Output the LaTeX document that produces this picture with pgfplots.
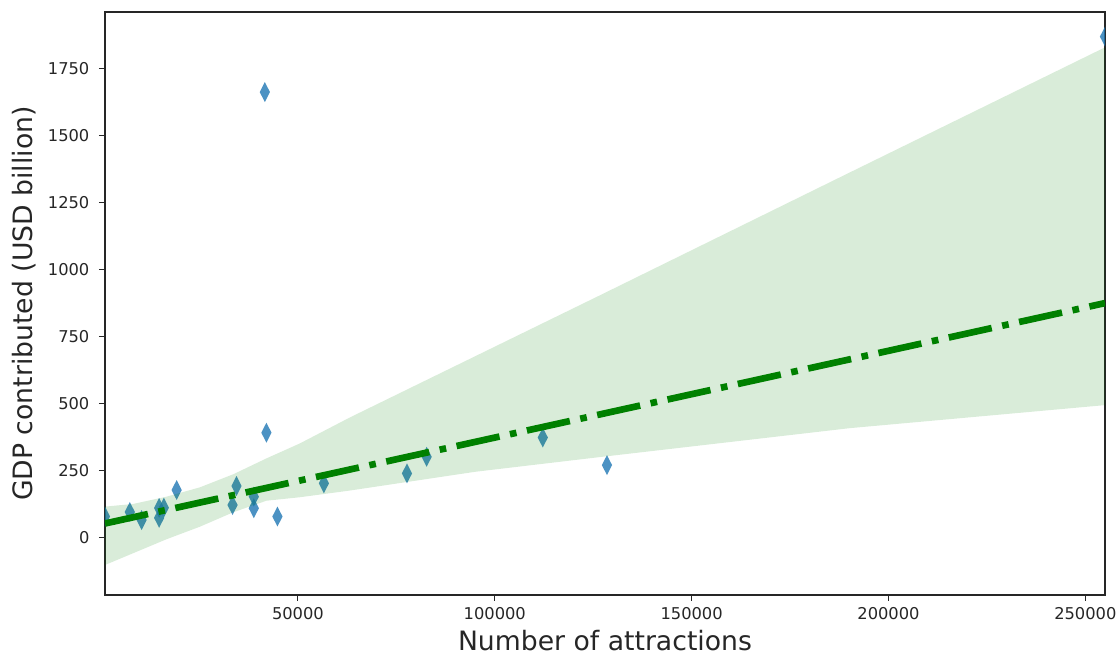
\documentclass[border=0pt]{standalone}
\usepackage{pgfplots}
\pgfplotsset{compat=1.18}
\usepackage{fontspec}
\setmainfont{DejaVu Sans}

\definecolor{ptblue}{RGB}{31,119,180}
\definecolor{fitgreen}{RGB}{0,128,0}
\definecolor{axgray}{RGB}{38,38,38}

% attractions vs. GDP contributed
\pgfplotstableread{
x      y
1000   78
7300   95
10300  65
14750  110
15950  111
14750  73
19200  177
33400  121
34400  192
38800  152
38800  109
41600  1663
42000  391
44800  78
56600  202
77700  239
82700  301
112200 373
128500 270
255000 1870
}\gdpdata

\begin{document}
\begin{tikzpicture}
\begin{axis}[
  scale only axis,
  width=750pt, height=437.25pt,
  xmin=1000, xmax=255000,
  ymin=-215, ymax=1962,
  xtick={50000,100000,150000,200000,250000},
  ytick={0,250,500,750,1000,1250,1500,1750},
  scaled x ticks=false, scaled y ticks=false,
  /pgf/number format/.cd, fixed, precision=0, 1000 sep={}, assume math mode=true,
  /pgfplots/.cd,
  tick label style={font=\fontsize{12.2}{14}\selectfont, text=axgray},
  yticklabel style={xshift=-3.7pt},
  xticklabel style={yshift=-1pt, inner xsep=0pt},
  tick align=outside,
  major tick length=4.5pt,
  xtick pos=left, ytick pos=left,
  tick style={axgray, line width=0.8pt},
  axis line style={axgray, line width=0.8pt},
  label style={font=\fontsize{20}{24}\selectfont, text=axgray},
  xlabel={Number of attractions},
  ylabel={GDP contributed (USD billion)},
  xlabel style={at={(axis description cs:0.5,-0.06)}, anchor=north, inner sep=0pt},
  ylabel style={at={(axis description cs:-0.069,0.5)}, anchor=south, inner sep=0pt},
  clip marker paths=true,
]
% observations
\addplot[ptblue, only marks, mark=diamond*, mark size=7.5pt,
  mark options={xscale=0.68, fill=ptblue, draw=ptblue, draw opacity=0, fill opacity=0.8}]
  table[x=x, y=y] {\gdpdata};
% confidence band of the fit
\addplot[draw=none, fill=fitgreen, fill opacity=0.15] coordinates {
  (1000,115) (8150,125) (16600,152) (25100,187) (33600,236) (42000,295)
  (50500,351) (63200,448) (126700,904) (190200,1363) (255000,1830)
  (255000,494) (190200,408) (126700,300) (95000,245) (63200,175) (50500,150)
  (42000,137) (33600,94) (25100,40) (16600,-7) (8150,-59) (1000,-103)
} -- cycle;
% regression line
\addplot[fitgreen, line width=5pt, line cap=butt,
  dash pattern=on 33pt off 8pt on 5pt off 8pt]
  coordinates {(1000,52) (255000,875)};
\end{axis}
\path ([xshift=-78.75pt,yshift=-47.25pt]current axis.south west)
  rectangle ([xshift=9pt,yshift=9pt]current axis.north east);
\end{tikzpicture}
\end{document}
